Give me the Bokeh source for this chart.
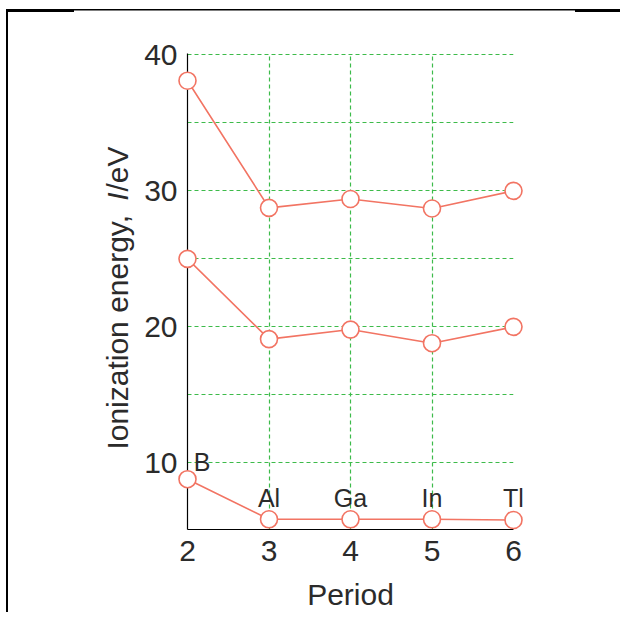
import math
from bokeh.plotting import figure
from bokeh.models import FixedTicker, Range1d
from bokeh.core.properties import value
from bokeh.embed import file_html
from bokeh.resources import INLINE

# ---- data ----
periods = [2, 3, 4, 5, 6]
elements = ["B", "Al", "Ga", "In", "Tl"]
ie_first = [8.8, 5.85, 5.85, 5.85, 5.8]
ie_second = [25.0, 19.1, 19.8, 18.8, 20.0]
ie_third = [38.1, 28.75, 29.4, 28.7, 30.0]
x_ticks = [2, 3, 4, 5, 6]
y_tick_labels = [10, 20, 30, 40]
y_grid_values = [10, 15, 20, 25, 30, 35, 40]
x_grid_values = [3, 4, 5, 6]
x_title = "Period"
y_title_parts = ["Ionization energy, ", "I", "/eV"]

# ---- style ----
SALMON = "#f27463"
GREEN = "#3dbb4a"
TXT = "#2b2b2b"
FONT = "Liberation Sans"

FRAME_CSS = """
:host::after {
  content: "";
  position: absolute;
  left: 6px; top: 9px; right: 0; bottom: 0;
  border-left: 2px solid black;
  background:
    linear-gradient(#000, #000) 0 0 / 66px 3px no-repeat,
    linear-gradient(#000, #000) 567px 0 / 200px 3px no-repeat,
    linear-gradient(#000, #000) 0 0 / 100% 1.5px no-repeat;
  pointer-events: none;
  z-index: 10;
}
"""

X0, X1 = 2, 6
Y0, Y1 = 5.1, 40.1
p = figure(width=620, height=612, output_backend="svg", toolbar_location=None,
           x_range=Range1d(X0, X1), y_range=Range1d(Y0, Y1),
           min_border_left=187, min_border_right=107,
           min_border_top=53, min_border_bottom=83,
           stylesheets=[FRAME_CSS])
p.outline_line_color = None
p.background_fill_color = "white"
p.border_fill_color = "white"

# axes
for ax in (p.xaxis[0], p.yaxis[0]):
    ax.axis_line_color = "black"
    ax.axis_line_width = 1.2
    ax.major_tick_line_color = None
    ax.minor_tick_line_color = None
    ax.major_tick_out = 0
    ax.major_tick_in = 0
    ax.major_label_text_font = FONT
    ax.major_label_text_font_size = "30px"
    ax.major_label_text_color = TXT

p.xaxis.ticker = FixedTicker(ticks=x_ticks)
p.yaxis.ticker = FixedTicker(ticks=y_tick_labels)
p.xaxis.major_label_standoff = 11
p.yaxis.major_label_standoff = 10

# grid
p.xgrid.ticker = FixedTicker(ticks=x_grid_values)
p.ygrid.ticker = FixedTicker(ticks=y_grid_values)
for g in (p.xgrid[0], p.ygrid[0]):
    g.grid_line_color = GREEN
    g.grid_line_width = 1.2
    g.grid_line_dash = "4 3"

# series
for series in (ie_first, ie_second, ie_third):
    p.line(periods, series, line_color=SALMON, line_width=1.6)
    p.scatter(periods, series, size=17, marker="circle", fill_color="white",
              line_color=SALMON, line_width=1.6, level="overlay")

# element labels (B above-right of its point, others above the low series)
lab_x = [periods[0] + 0.18] + periods[1:]
lab_y = [10.05] + [7.45] * 4
p.text(lab_x, lab_y, text=elements, text_font=value(FONT), text_font_size="25px",
       text_color=TXT, text_align="center", text_baseline="middle", level="overlay")

# axis titles drawn as text outside the frame
px_per_x = 81.5
px_per_y = 13.62
fs = 30
# x title below the tick labels
p.text([(X0 + X1) / 2], [Y0 - 65 / px_per_y], text=[x_title],
       text_font=value(FONT), text_font_size=f"{fs}px", text_color=TXT,
       text_align="center", text_baseline="middle", level="overlay")
# y title (rotated), in pieces so that I is italic
lx = X0 - 70 / px_per_x
ly = Y0 + 80 / px_per_y
w_main = (0.001 * fs * 8171 + 4) / px_per_y
w_I = (0.001 * fs * 278 + 1) / px_per_y
part_y = [ly, ly + w_main, ly + w_main + w_I]
styles = ["normal", "italic", "normal"]
for txt, yy, st in zip(y_title_parts, part_y, styles):
    p.text([lx], [yy], text=[txt], angle=math.pi / 2,
           text_font=value(FONT), text_font_size=f"{fs}px", text_font_style=st,
           text_color=TXT, text_align="left", text_baseline="middle",
           level="overlay")

open("out.html", "w").write(file_html(p, INLINE))
